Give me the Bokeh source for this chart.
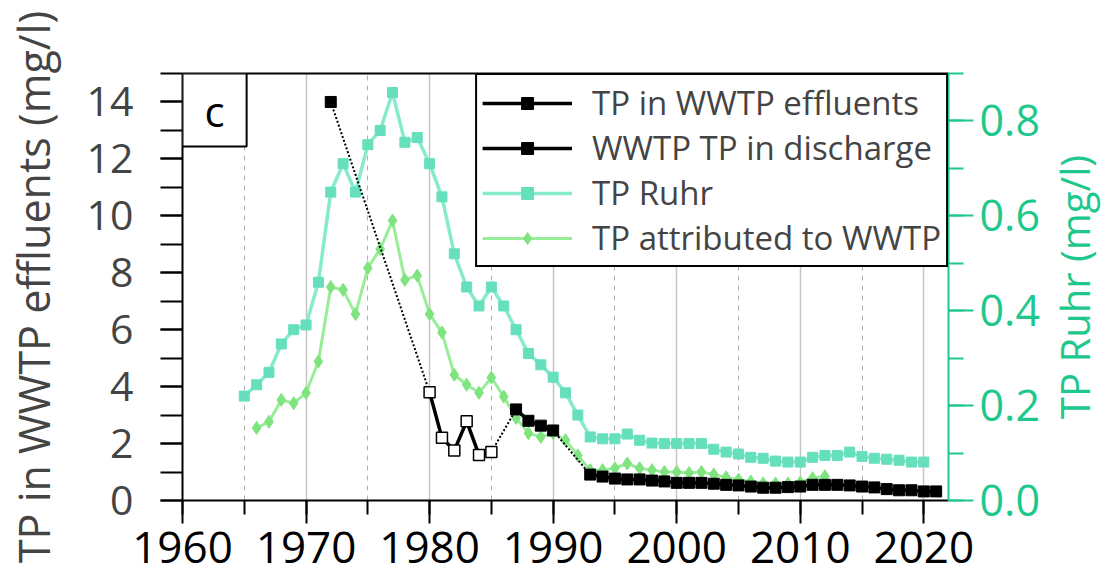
import math
from bokeh.plotting import figure
from bokeh.layouts import row
from bokeh.models import (Range1d, LinearAxis, SingleIntervalTicker, FixedTicker, Legend, LegendItem,
                          Label, PrintfTickFormatter)
from bokeh.core.properties import value
from bokeh.embed import file_html
from bokeh.resources import INLINE
import numpy as np

# ---------------- data ----------------
ruhr_years = list(range(1965, 2021))
ruhr_tp = [0.22, 0.244, 0.27, 0.33, 0.36, 0.37, 0.46, 0.65, 0.71, 0.65,
           0.75, 0.78, 0.86, 0.755, 0.765, 0.71, 0.64, 0.52, 0.45, 0.41,
           0.45, 0.41, 0.36, 0.31, 0.286, 0.26, 0.227, 0.18, 0.134, 0.13,
           0.13, 0.14, 0.127, 0.121, 0.12, 0.12, 0.12, 0.12, 0.108, 0.102,
           0.098, 0.091, 0.089, 0.083, 0.081, 0.081, 0.091, 0.095, 0.095, 0.102,
           0.093, 0.089, 0.087, 0.085, 0.081, 0.081]

attr_years = list(range(1966, 2013))
attr_tp = [0.153, 0.166, 0.212, 0.205, 0.227, 0.293, 0.45, 0.444, 0.393, 0.49,
           0.53, 0.59, 0.465, 0.474, 0.393, 0.354, 0.265, 0.244, 0.227, 0.259,
           0.219, 0.174, 0.142, 0.134, 0.142, 0.127, 0.095, 0.064, 0.064, 0.068,
           0.078, 0.068, 0.064, 0.06, 0.06, 0.058, 0.06, 0.055, 0.049, 0.044,
           0.04, 0.036, 0.036, 0.036, 0.038, 0.047, 0.051]

effl_years = [1980, 1981, 1982, 1983, 1984, 1985]
effl_tp = [3.8, 2.2, 1.76, 2.78, 1.6, 1.7]

disch_years = [1972, 1987, 1988, 1989, 1990] + list(range(1993, 2022))
disch_tp = [14.0, 3.2, 2.8, 2.63, 2.46,
            0.91, 0.84, 0.77, 0.74, 0.74, 0.7, 0.67, 0.62, 0.62, 0.62,
            0.59, 0.55, 0.53, 0.49, 0.45, 0.45, 0.47, 0.49, 0.55, 0.55,
            0.55, 0.53, 0.49, 0.46, 0.4, 0.36, 0.36, 0.32, 0.32]

legend_labels = ["TP in WWTP effluents", "WWTP TP in discharge", "TP Ruhr", "TP attributed to WWTP"]
left_title = "TP in WWTP effluents (mg/l)"
right_title = "TP Ruhr (mg/l)"
panel_label = "c"

# ---------------- styles ----------------
FONT = "Open Sans"
RUHR_LINE = "#86EACD"
RUHR_MARK = "#66DFBC"
ATTR_LINE = "#98EE98"
ATTR_MARK = "#7FE47F"
AXIS_GREEN = "#1EC88C"

TOTAL_H = 578
TITLE_W = 60

p = figure(width=1104 - TITLE_W, height=TOTAL_H, x_range=Range1d(1960, 2022), y_range=Range1d(0, 15),
           output_backend="svg", toolbar_location=None,
           min_border_left=180, min_border_right=1104 - TITLE_W - 948,
           min_border_top=73, min_border_bottom=78)
p.extra_y_ranges = {"ruhr": Range1d(0, 0.9)}
p.outline_line_color = None
p.background_fill_color = "white"
p.border_fill_color = "white"

# x axis
xt = SingleIntervalTicker(interval=10, num_minor_ticks=2)
xa = p.xaxis[0]
xa.ticker = xt
xa.axis_line_width = 2
xa.major_tick_line_width = 2
xa.minor_tick_line_width = 2
xa.major_tick_in = 0
xa.major_tick_out = 23
xa.minor_tick_in = 0
xa.minor_tick_out = 14
xa.major_label_text_font = FONT
xa.major_label_text_font_size = "44px"
xa.major_label_standoff = 8
xa.major_label_text_color = "black"

# grid
p.xgrid.ticker = xt
p.xgrid.grid_line_color = "#C4C4C4"
p.xgrid.grid_line_width = 1.5
p.xgrid.minor_grid_line_color = "#B0B0B0"
p.xgrid.minor_grid_line_width = 1
p.xgrid.minor_grid_line_dash = "5 5"
p.ygrid.visible = False

# left axis
ya = p.yaxis[0]
ya.ticker = SingleIntervalTicker(interval=2, num_minor_ticks=2)
ya.axis_line_width = 2
ya.major_tick_line_width = 2
ya.minor_tick_line_width = 2
ya.major_tick_in = 0
ya.major_tick_out = 22
ya.minor_tick_in = 0
ya.minor_tick_out = 22
ya.major_label_text_font = FONT
ya.major_label_text_font_size = "41px"
ya.major_label_standoff = 27
ya.axis_label = left_title
ya.axis_label_text_font = FONT
ya.axis_label_text_font_size = "43px"
ya.axis_label_text_font_style = "normal"
ya.axis_label_standoff = 21

# right axis
ra = LinearAxis(y_range_name="ruhr",
                ticker=SingleIntervalTicker(interval=0.2, num_minor_ticks=2),
                formatter=PrintfTickFormatter(format="%.1f"))
ra.axis_line_color = AXIS_GREEN
ra.axis_line_width = 2
ra.major_tick_line_color = AXIS_GREEN
ra.minor_tick_line_color = AXIS_GREEN
ra.major_tick_line_width = 2
ra.minor_tick_line_width = 2
ra.major_tick_in = 0
ra.major_tick_out = 25
ra.minor_tick_in = 0
ra.minor_tick_out = 15
ra.major_label_text_font = FONT
ra.major_label_text_font_size = "43px"
ra.major_label_text_color = AXIS_GREEN
ra.major_label_standoff = 6
p.add_layout(ra, "right")

# top border
ta = LinearAxis(ticker=FixedTicker(ticks=[]))
ta.axis_line_width = 2
ta.major_tick_in = 0
ta.major_tick_out = 0
ta.minor_tick_in = 0
ta.minor_tick_out = 0
ta.major_label_standoff = 0
p.add_layout(ta, "above")

# ---------------- series ----------------
ruhr_line = p.line(ruhr_years, ruhr_tp, y_range_name="ruhr", line_color=RUHR_LINE, line_width=3.5)
ruhr_pts = p.scatter(ruhr_years, ruhr_tp, y_range_name="ruhr", marker="square", size=10,
                     fill_color=RUHR_MARK, line_color=RUHR_MARK)

attr_line = p.line(attr_years, attr_tp, y_range_name="ruhr", line_color=ATTR_LINE, line_width=3)
attr_pts = p.scatter(attr_years, attr_tp, y_range_name="ruhr", marker="diamond", size=13,
                     fill_color=ATTR_MARK, line_color=ATTR_MARK)

# black: dotted connectors through all points, solid for consecutive years
all_years = np.array(effl_years + disch_years, dtype=float)
all_vals = np.array(effl_tp + disch_tp, dtype=float)
order = np.argsort(all_years)
all_years = all_years[order]
all_vals = all_vals[order]
p.line(all_years, all_vals, line_color="black", line_width=2, line_dash="2 2")

sx, sy = [], []
for i, (yr, v) in enumerate(zip(all_years, all_vals)):
    if i > 0 and yr - all_years[i - 1] > 1:
        sx.append(np.nan)
        sy.append(np.nan)
    sx.append(yr)
    sy.append(v)
black_line = p.line(sx, sy, line_color="black", line_width=3.5)

disch_pts = p.scatter(disch_years, disch_tp, marker="square", size=11, fill_color="black",
                      line_color="black")
effl_pts = p.scatter(effl_years, effl_tp, marker="square", size=11, fill_color="white",
                     line_color="black", line_width=1.5)

# ---------------- legend ----------------
legend = Legend(items=[LegendItem(label=legend_labels[0], renderers=[black_line, disch_pts]),
                       LegendItem(label=legend_labels[1], renderers=[black_line, disch_pts]),
                       LegendItem(label=legend_labels[2], renderers=[ruhr_line, ruhr_pts]),
                       LegendItem(label=legend_labels[3], renderers=[attr_line, attr_pts])],
                location="top_right", margin=0, padding=5, spacing=0,
                glyph_width=90, glyph_height=30, label_standoff=20,
                label_text_font=FONT, label_text_font_size="33px",
                border_line_color="black", border_line_width=2, border_line_alpha=1.0,
                background_fill_color="white", background_fill_alpha=1.0)
p.add_layout(legend)

# ---------------- panel label ----------------
lab = Label(x=p.x_range.start, y=p.y_range.end, x_units="data", y_units="data", anchor="top_left",
            text=panel_label, text_font=FONT, text_font_size="42px", text_color="black",
            padding=dict(left=22, right=22, top=8, bottom=8),
            border_line_color="black", border_line_width=2,
            background_fill_color="white")
p.add_layout(lab)

# ---------------- right-axis title strip (reads bottom-to-top) ----------------
t = figure(width=TITLE_W, height=TOTAL_H, x_range=Range1d(0, 1), y_range=Range1d(0, 1),
           output_backend="svg", toolbar_location=None,
           x_axis_location=None, y_axis_location=None,
           min_border_left=0, min_border_right=0, min_border_top=73, min_border_bottom=78)
t.outline_line_color = None
t.grid.visible = False
t.background_fill_color = "white"
t.border_fill_color = "white"
t.text(x=[0.5], y=[0.5], text=[right_title], angle=math.pi / 2,
       text_align="center", text_baseline="middle",
       text_font=value(FONT), text_font_size="40px", text_color=AXIS_GREEN)

layout = row(p, t)
open("out.html", "w").write(file_html(layout, INLINE))
